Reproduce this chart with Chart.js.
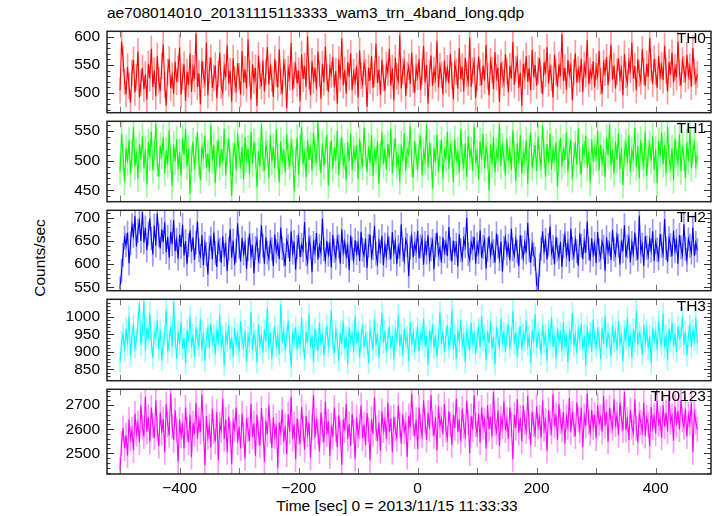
<!DOCTYPE html>
<html>
<head>
<meta charset="utf-8">
<script src="https://cdn.jsdelivr.net/npm/chart.js@4.4.0/dist/chart.umd.min.js"></script>
<style>
body { margin: 0; background: #fff; }
#wrap { position: relative; width: 717px; height: 516px; background: #fff; overflow: hidden;
        font-family: "Liberation Sans", Arial, sans-serif; color: #000; }
#wrap canvas { position: absolute; left: 0; }
.txt { position: absolute; font-size: 15.5px; line-height: 18px; white-space: nowrap; }
.lab { position: absolute; font-size: 15.5px; line-height: 18px; text-align: right; right: 11px; }
</style>
</head>
<body>
<div id="wrap">
  <div class="txt" style="left:107px; top:4px;">ae708014010_20131115113333_wam3_trn_4band_long.qdp</div>
  <div class="txt" style="left:40px; top:258px; transform: translate(-50%,-50%) rotate(-90deg);">Counts/sec</div>
  <div class="txt" style="left:397px; top:497px; transform: translateX(-50%);">Time [sec] 0 = 2013/11/15 11:33:33</div>
</div>
<script>
// bins: start time and width (sec)
var tStart = -500;
var tStep = 2.5;

var names = ['TH0', 'TH1', 'TH2', 'TH3', 'TH0123'];
var colors = ['#ff0000', '#00ff00', '#0000ff', '#00ffff', '#ff00ff'];
var light = ['rgba(255,0,0,0.4)', 'rgba(0,255,0,0.4)', 'rgba(0,0,255,0.4)', 'rgba(0,255,255,0.4)', 'rgba(255,0,255,0.4)'];
// 1-sigma error of one bin (counts/sec)
var errs = [23, 22, 25, 30, 51];

var th0 = [
    505, 592, 561, 520, 498, 547, 512, 483, 536, 559, 501, 528, 574, 492, 519, 545, 507, 533, 488, 552,
    526, 579, 511, 540, 494, 566, 523, 504, 548, 587, 515, 478, 537, 560, 509, 531, 499, 556, 520, 543,
    581, 497, 529, 551, 486, 538, 515, 570, 502, 544, 525, 606, 511, 535, 480, 557, 532, 518, 590, 496,
    541, 563, 509, 527, 549, 491, 534, 572, 513, 501, 546, 528, 585, 517, 539, 484, 562, 524, 507, 553,
    530, 498, 575, 519, 542, 508, 596, 536, 489, 551, 522, 545, 477, 567, 531, 512, 558, 503, 538, 582,
    515, 547, 526, 493, 561, 534, 510, 578, 521, 499, 554, 537, 473, 543, 528, 589, 506, 532, 550, 517,
    540, 485, 569, 525, 548, 511, 601, 530, 496, 557, 523, 544, 507, 574, 535, 490, 552, 519, 583, 528,
    502, 546, 533, 564, 510, 539, 481, 560, 526, 597, 514, 541, 499, 555, 529, 571, 505, 537, 520, 548,
    492, 576, 531, 516, 553, 538, 475, 545, 522, 566, 509, 534, 588, 518, 542, 497, 559, 527, 504, 550,
    536, 579, 513, 544, 487, 563, 530, 521, 603, 508, 539, 554, 495, 532, 547, 516, 572, 524, 500, 545,
    529, 561, 506, 538, 584, 519, 550, 482, 535, 567, 513, 541, 526, 593, 510, 548, 532, 498, 558, 523,
    544, 517, 570, 531, 489, 552, 538, 508, 580, 525, 547, 503, 563, 534, 519, 599, 511, 540, 556, 491,
    527, 565, 536, 514, 549, 522, 586, 530, 496, 557, 541, 507, 573, 528, 545, 484, 554, 533, 518, 569,
    539, 501, 548, 526, 591, 515, 543, 560, 509, 536, 478, 552, 531, 566, 520, 544, 505, 577, 529, 550,
    513, 540, 562, 524, 498, 555, 535, 582, 517, 546, 527, 492, 568, 538, 511, 551, 530, 605, 522, 545,
    506, 559, 533, 548, 487, 537, 571, 519, 542, 525, 561, 502, 550, 534, 594, 516, 540, 528, 556, 510,
    547, 530, 575, 521, 499, 553, 536, 564, 514, 544, 586, 524, 549, 508, 538, 562, 527, 543, 496, 570,
    532, 518, 557, 541, 590, 526, 548, 505, 560, 535, 521, 578, 539, 512, 552, 529, 598, 544, 516, 561,
    537, 509, 566, 530, 549, 523, 584, 540, 503, 555, 533, 572, 519, 546, 528, 592, 536, 513, 558, 542,
    525, 568, 531, 547, 511, 580, 538, 520, 533
];
var th1 = [
    482, 545, 506, 465, 521, 497, 534, 478, 511, 556, 490, 515, 470, 528, 502, 541, 487, 519, 460, 531,
    505, 549, 484, 513, 562, 496, 473, 525, 508, 540, 479, 517, 493, 551, 501, 457, 527, 499, 536, 486,
    514, 475, 538, 509, 553, 490, 520, 444, 503, 532, 485, 518, 548, 496, 467, 524, 507, 542, 488, 512,
    480, 559, 500, 526, 462, 511, 535, 489, 519, 497, 553, 475, 514, 537, 499, 441, 508, 529, 484, 546,
    510, 492, 523, 468, 539, 502, 520, 477, 548, 495, 531, 509, 455, 516, 490, 561, 504, 483, 527, 512,
    471, 542, 498, 524, 487, 552, 506, 463, 533, 499, 518, 480, 545, 508, 489, 530, 514, 449, 502, 539,
    477, 521, 556, 494, 511, 472, 535, 501, 525, 482, 547, 513, 496, 564, 505, 479, 529, 491, 517, 543,
    458, 510, 534, 486, 522, 500, 550, 476, 515, 539, 493, 507, 467, 531, 498, 545, 484, 519, 503, 526,
    469, 537, 508, 490, 555, 512, 481, 524, 496, 543, 474, 516, 501, 532, 461, 509, 548, 494, 520, 485,
    528, 504, 553, 479, 514, 538, 492, 506, 465, 527, 499, 546, 483, 518, 510, 558, 495, 471, 533, 507,
    488, 523, 541, 476, 515, 500, 560, 489, 530, 508, 453, 521, 497, 544, 481, 512, 535, 470, 519, 502,
    549, 486, 525, 511, 464, 536, 498, 517, 479, 552, 505, 490, 529, 472, 541, 507, 518, 483, 557, 496,
    513, 468, 532, 501, 545, 487, 522, 509, 450, 527, 494, 539, 480, 516, 503, 562, 491, 524, 506, 475,
    537, 499, 518, 484, 551, 510, 466, 529, 495, 543, 478, 514, 500, 534, 461, 520, 547, 488, 507, 526,
    482, 540, 505, 492, 559, 511, 473, 528, 497, 545, 485, 519, 503, 531, 456, 512, 538, 490, 522, 501,
    548, 480, 516, 534, 469, 508, 527, 493, 554, 500, 476, 523, 511, 542, 487, 515, 463, 536, 498, 520,
    505, 550, 483, 526, 497, 514, 472, 539, 509, 561, 491, 518, 478, 532, 502, 546, 486, 521, 459, 512,
    530, 496, 543, 481, 517, 504, 555, 489, 524, 470, 535, 507, 492, 549, 474, 513, 528, 499, 541, 485,
    519, 462, 533, 508, 547, 494, 526, 479, 557, 503, 488, 521, 467, 537, 510, 496, 544, 482, 525, 506,
    471, 531, 498, 552, 487, 515, 529, 493, 509
];
var th2 = [
    548, 586, 620, 657, 641, 668, 602, 645, 684, 661, 703, 638, 672, 692, 650, 712, 647, 679, 630, 666,
    698, 655, 621, 683, 640, 709, 662, 634, 675, 647, 690, 626, 659, 614, 670, 643, 695, 628, 653, 612,
    664, 637, 685, 619, 650, 600, 641, 673, 627, 658, 609, 646, 692, 630, 617, 663, 598, 644, 622, 578,
    636, 655, 611, 668, 624, 594, 647, 631, 603, 660, 620, 642, 585, 633, 675, 614, 651, 599, 629, 688,
    638, 606, 657, 623, 645, 590, 632, 666, 618, 641, 580, 635, 653, 609, 627, 684, 640, 601, 658, 625,
    612, 649, 633, 596, 664, 628, 643, 611, 679, 634, 620, 597, 652, 639, 606, 671, 625, 648, 588, 637,
    659, 615, 642, 630, 691, 622, 604, 654, 636, 583, 646, 627, 667, 610, 640, 625, 698, 632, 608, 650,
    621, 644, 593, 663, 629, 614, 656, 638, 601, 675, 626, 648, 617, 639, 587, 661, 633, 609, 652, 624,
    645, 607, 670, 631, 619, 655, 592, 640, 664, 616, 635, 682, 623, 603, 649, 627, 661, 598, 642, 618,
    657, 634, 611, 669, 626, 648, 600, 637, 620, 686, 631, 608, 653, 641, 574, 636, 660, 615, 644, 629,
    672, 613, 638, 655, 599, 646, 625, 663, 610, 632, 650, 589, 641, 668, 621, 635, 604, 658, 627, 646,
    617, 680, 633, 606, 651, 624, 642, 595, 665, 630, 612, 654, 639, 700, 622, 609, 647, 634, 659, 601,
    643, 626, 673, 614, 637, 652, 591, 631, 660, 619, 645, 628, 604, 666, 638, 611, 649, 584, 635, 657,
    623, 640, 608, 677, 632, 618, 654, 627, 596, 662, 636, 613, 647, 625, 689, 630, 603, 643, 621, 612,
    556, 547, 598, 633, 671, 628, 652, 610, 642, 681, 624, 637, 600, 659, 631, 615, 648, 594, 639, 663,
    620, 645, 606, 676, 634, 617, 653, 628, 597, 666, 640, 611, 650, 625, 692, 633, 608, 656, 621, 644,
    602, 669, 630, 614, 649, 637, 586, 658, 626, 643, 609, 674, 632, 619, 661, 640, 599, 651, 628, 684,
    615, 638, 657, 604, 646, 623, 668, 633, 610, 705, 627, 642, 596, 660, 636, 618, 653, 629, 671, 607,
    648, 631, 612, 665, 639, 622, 697, 634, 605, 656, 641, 617, 672, 629, 650, 601, 663, 636, 620, 686,
    633, 609, 654, 640, 625, 679, 618, 646, 630
];
var th3 = [
    872, 930, 951, 904, 966, 921, 1003, 889, 947, 975, 912, 936, 984, 1040, 918, 957, 1046, 902, 969, 938,
    1012, 927, 883, 955, 941, 990, 906, 963, 876, 925, 948, 1020, 899, 934, 972, 915, 1043, 944, 880, 958,
    921, 986, 909, 940, 867, 962, 928, 1001, 913, 949, 886, 970, 935, 918, 995, 904, 956, 874, 939, 965,
    911, 981, 926, 947, 893, 960, 932, 1007, 917, 944, 862, 953, 929, 976, 908, 942, 885, 967, 923, 950,
    899, 988, 937, 914, 961, 872, 945, 926, 1014, 905, 952, 933, 869, 978, 920, 943, 897, 964, 930, 1026,
    910, 954, 881, 939, 973, 916, 947, 893, 1035, 928, 960, 903, 944, 989, 921, 858, 951, 936, 970, 907,
    942, 918, 997, 931, 878, 957, 925, 1008, 912, 948, 871, 966, 934, 903, 983, 920, 952, 889, 940, 975,
    915, 946, 1019, 928, 896, 961, 937, 874, 954, 922, 987, 909, 943, 866, 971, 931, 950, 900, 1002, 924,
    958, 885, 936, 979, 913, 949, 927, 868, 963, 941, 905, 992, 919, 953, 882, 945, 1010, 926, 960, 898,
    938, 972, 911, 947, 879, 959, 932, 1005, 917, 950, 891, 966, 929, 943, 874, 985, 921, 955, 907, 940,
    968, 902, 951, 934, 995, 916, 945, 863, 961, 927, 980, 910, 948, 887, 939, 1013, 923, 957, 899, 944,
    976, 914, 937, 1021, 908, 950, 880, 962, 930, 991, 919, 946, 871, 958, 935, 906, 983, 926, 953, 894,
    941, 967, 912, 1002, 933, 948, 877, 959, 924, 986, 909, 944, 864, 970, 937, 917, 996, 929, 955, 901,
    947, 979, 915, 938, 1016, 922, 956, 885, 942, 973, 906, 951, 932, 990, 918, 945, 868, 963, 927, 1008,
    911, 954, 938, 893, 977, 925, 949, 875, 960, 934, 999, 914, 946, 882, 967, 929, 953, 904, 985, 920,
    943, 870, 958, 931, 1011, 917, 950, 896, 964, 936, 981, 908, 947, 861, 972, 926, 955, 900, 993, 933,
    915, 962, 940, 879, 969, 922, 1004, 911, 952, 937, 888, 975, 929, 958, 905, 987, 924, 946, 873, 961,
    935, 998, 913, 950, 883, 966, 928, 1017, 919, 955, 941, 892, 978, 927, 962, 909, 945, 867, 970, 931,
    957, 906, 989, 938, 921, 1009, 912, 949, 876, 965, 930, 984, 916, 952, 899, 973, 936, 944, 1001, 920,
    958, 890, 946, 975, 913, 962, 933, 997, 925
];
var th0123 = [
    2432, 2540, 2605, 2520, 2575, 2490, 2640, 2560, 2598, 2512, 2665, 2580, 2625, 2545, 2700, 2610, 2570, 2735, 2590, 2650,
    2548, 2690, 2615, 2565, 2720, 2600, 2530, 2670, 2585, 2642, 2505, 2705, 2620, 2575, 2750, 2612, 2555, 2680, 2595, 2465,
    2640, 2572, 2615, 2520, 2690, 2598, 2545, 2660, 2485, 2625, 2580, 2710, 2560, 2638, 2590, 2745, 2605, 2450, 2655, 2568,
    2612, 2525, 2685, 2590, 2548, 2672, 2470, 2620, 2595, 2728, 2560, 2640, 2505, 2652, 2582, 2455, 2630, 2600, 2690, 2545,
    2610, 2520, 2665, 2575, 2480, 2645, 2598, 2550, 2705, 2568, 2625, 2490, 2660, 2585, 2532, 2688, 2600, 2465, 2635, 2578,
    2700, 2592, 2522, 2650, 2570, 2615, 2440, 2628, 2585, 2682, 2548, 2612, 2495, 2662, 2590, 2735, 2560, 2620, 2475, 2645,
    2588, 2540, 2692, 2605, 2515, 2655, 2578, 2628, 2482, 2610, 2742, 2565, 2635, 2590, 2508, 2670, 2598, 2545, 2715, 2580,
    2632, 2488, 2615, 2568, 2690, 2600, 2525, 2658, 2585, 2452, 2640, 2595, 2705, 2560, 2622, 2530, 2665, 2590, 2478, 2650,
    2575, 2612, 2700, 2562, 2620, 2535, 2668, 2598, 2472, 2642, 2580, 2732, 2605, 2550, 2628, 2510, 2675, 2595, 2640, 2560,
    2710, 2588, 2645, 2505, 2652, 2600, 2560, 2698, 2615, 2540, 2662, 2590, 2620, 2485, 2655, 2608, 2748, 2625, 2570, 2640,
    2518, 2690, 2612, 2575, 2720, 2635, 2555, 2668, 2600, 2742, 2625, 2570, 2650, 2512, 2695, 2615, 2642, 2580, 2705, 2598,
    2562, 2675, 2620, 2535, 2660, 2605, 2728, 2590, 2640, 2548, 2685, 2612, 2575, 2718, 2630, 2500, 2655, 2598, 2740, 2620,
    2580, 2665, 2545, 2690, 2610, 2638, 2520, 2700, 2600, 2652, 2570, 2755, 2625, 2588, 2680, 2530, 2645, 2612, 2715, 2595,
    2640, 2560, 2690, 2618, 2475, 2660, 2605, 2725, 2585, 2648, 2550, 2700, 2628, 2592, 2738, 2610, 2535, 2672, 2620, 2580,
    2695, 2612, 2648, 2565, 2720, 2600, 2635, 2510, 2680, 2625, 2590, 2745, 2615, 2660, 2555, 2705, 2632, 2598, 2672, 2540,
    2650, 2610, 2730, 2588, 2665, 2620, 2570, 2712, 2640, 2595, 2690, 2525, 2655, 2615, 2748, 2630, 2585, 2680, 2608, 2660,
    2562, 2700, 2625, 2650, 2590, 2738, 2615, 2672, 2548, 2690, 2635, 2605, 2725, 2620, 2660, 2575, 2710, 2642, 2595, 2755,
    2598, 2640, 2555, 2680, 2612, 2585, 2725, 2605, 2545, 2662, 2628, 2590, 2710, 2572, 2648, 2618, 2530, 2692, 2608, 2655,
    2582, 2718, 2622, 2645, 2565, 2700, 2612, 2668, 2590, 2735, 2630, 2655, 2552, 2695, 2618, 2676, 2598, 2722, 2640, 2610,
    2685, 2570, 2660, 2625, 2712, 2505, 2668, 2632, 2600
];
var series = [th0, th1, th2, th3, th0123];

// y ranges and tick labels of each panel
var yMin = [465, 431, 543, 818, 2414];
var yMax = [610, 566, 716, 1050, 2766];
var yTicks = [[500, 550, 600], [450, 500, 550], [550, 600, 650, 700], [850, 900, 950, 1000], [2500, 2600, 2700]];
var yMinor = [10, 10, 10, 10, 20];
var xMin = -522, xMax = 493;
var xTicks = [-400, -200, 0, 200, 400];

var panelTop = [27, 117, 206, 295, 385];
var panelBottom = 474;
var font = { family: '"Liberation Sans", Arial, sans-serif', size: 15.5 };

var frame = {
    id: 'frame',
    afterDatasetsDraw: function(chart) {
        var a = chart.chartArea;
        var ys = chart.scales.y;
        var xs = chart.scales.x;
        var i = chart.options.panel;
        var ctx = chart.ctx;
        ctx.save();
        // x ticks every 100 s, top and bottom
        ctx.strokeStyle = '#777';
        ctx.lineWidth = 1;
        for (var t = -500; t <= 400; t += 100) {
            var px = Math.round(xs.getPixelForValue(t)) + 0.5;
            ctx.beginPath();
            ctx.moveTo(px, a.top); ctx.lineTo(px, a.top + 6);
            ctx.moveTo(px, a.bottom); ctx.lineTo(px, a.bottom - 6);
            ctx.stroke();
        }
        // y ticks, major and minor, both sides
        ctx.strokeStyle = '#333';
        var step = yMinor[i];
        var major = yTicks[i][1] - yTicks[i][0];
        for (var v = Math.ceil(yMin[i] / step) * step; v <= yMax[i]; v += step) {
            var py = Math.round(ys.getPixelForValue(v)) + 0.5;
            var len = (v % major === 0) ? 7 : 3.5;
            ctx.beginPath();
            ctx.moveTo(a.left, py); ctx.lineTo(a.left + len, py);
            ctx.moveTo(a.right, py); ctx.lineTo(a.right - len, py);
            ctx.stroke();
        }
        ctx.strokeStyle = '#222';
        ctx.lineWidth = 1.5;
        ctx.strokeRect(a.left, a.top, a.right - a.left, a.bottom - a.top);
        ctx.restore();
    }
};

function makePanel(i) {
    var wrap = document.getElementById('wrap');
    var last = (i === series.length - 1);
    var pTop = panelTop[i];
    var pBot = last ? panelBottom : panelTop[i + 1];
    var top = pTop - 12;
    var height = last ? 516 - top : (pBot - pTop) + 24;

    var canvas = document.createElement('canvas');
    canvas.style.top = top + 'px';
    canvas.style.width = '717px';
    canvas.style.height = height + 'px';
    canvas.width = 717;
    canvas.height = height;
    wrap.appendChild(canvas);

    var lab = document.createElement('div');
    lab.className = 'lab';
    lab.style.top = (pTop + 2) + 'px';
    lab.textContent = names[i];

    var pts = [];
    var bars = [];
    var d = series[i];
    for (var k = 0; k < d.length; k++) {
        var t = tStart + k * tStep;
        pts.push({ x: t, y: d[k] });
        bars.push({ x: t, y: [d[k] - errs[i], d[k] + errs[i]] });
    }

    new Chart(canvas.getContext('2d'), {
        type: 'line',
        data: {
            datasets: [
                { data: pts, borderColor: colors[i], borderWidth: 1.1, pointRadius: 0, tension: 0, order: 0 },
                { type: 'bar', data: bars, backgroundColor: light[i], barThickness: 1, order: 1 }
            ]
        },
        options: {
            panel: i,
            responsive: false,
            animation: false,
            events: [],
            layout: { padding: { left: 0, right: 6, top: 12, bottom: last ? 0 : 12 } },
            plugins: { legend: { display: false }, tooltip: { enabled: false } },
            scales: {
                x: {
                    type: 'linear',
                    min: xMin,
                    max: xMax,
                    offset: false,
                    display: last,
                    grid: { display: false, drawTicks: false },
                    border: { display: false },
                    afterBuildTicks: function(s) {
                        s.ticks = xTicks.map(function(v) { return { value: v }; });
                    },
                    afterFit: function(s) { s.height = last ? 42 : 0; },
                    ticks: {
                        color: '#000',
                        font: font,
                        padding: 5,
                        maxRotation: 0,
                        callback: function(v) { return v < 0 ? '\u2212' + Math.abs(v) : String(v); }
                    }
                },
                y: {
                    min: yMin[i],
                    max: yMax[i],
                    grid: { display: false, drawTicks: false },
                    border: { display: false },
                    afterBuildTicks: function(s) {
                        s.ticks = yTicks[i].map(function(v) { return { value: v }; });
                    },
                    afterFit: function(s) { s.width = 107; },
                    ticks: {
                        color: '#000',
                        font: font,
                        padding: 7,
                        callback: function(v) { return String(v); }
                    }
                }
            }
        },
        plugins: [frame]
    });
    wrap.appendChild(lab);
}

for (var i = 0; i < series.length; i++) {
    makePanel(i);
}
</script>
</body>
</html>
